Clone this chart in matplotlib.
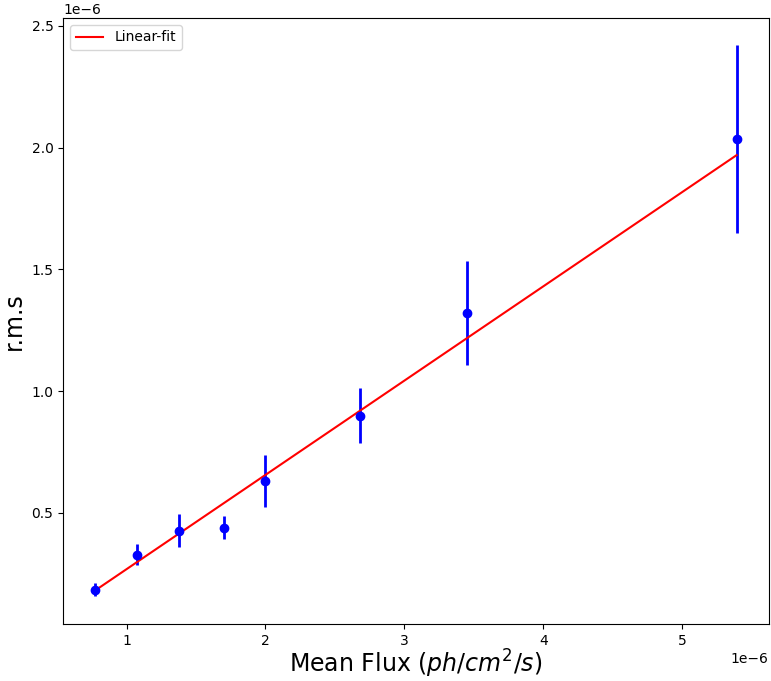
import numpy as np
import matplotlib
matplotlib.use("Agg")
import matplotlib.pyplot as plt

# data (units of 1e-6)
mean_flux = np.array([0.775, 1.075, 1.381, 1.700, 1.998, 2.678, 3.452, 5.392]) * 1e-6
rms = np.array([0.184, 0.3275, 0.427, 0.440, 0.631, 0.898, 1.320, 2.035]) * 1e-6
rms_err = np.array([0.027, 0.043, 0.068, 0.046, 0.107, 0.113, 0.2135, 0.384]) * 1e-6
fit_slope = 0.387
fit_intercept = -0.118e-6

fig = plt.figure(figsize=(7.71, 6.81), dpi=100)
ax = fig.add_axes([0.082, 0.0837, 0.915, 0.89])

ax.errorbar(mean_flux, rms, yerr=rms_err, fmt='o', color='blue', ecolor='blue',
            elinewidth=2, markersize=6)
xfit = np.array([mean_flux.min(), mean_flux.max()])
ax.plot(xfit, fit_slope * xfit + fit_intercept, color='red', label='Linear-fit')

ax.set_xlabel('Mean Flux ($ph/cm^2/s$)', fontsize=17, labelpad=0)
ax.set_ylabel('r.m.s', fontsize=17)
ax.legend(loc='upper left')

fig.savefig('out.png', dpi=100)
